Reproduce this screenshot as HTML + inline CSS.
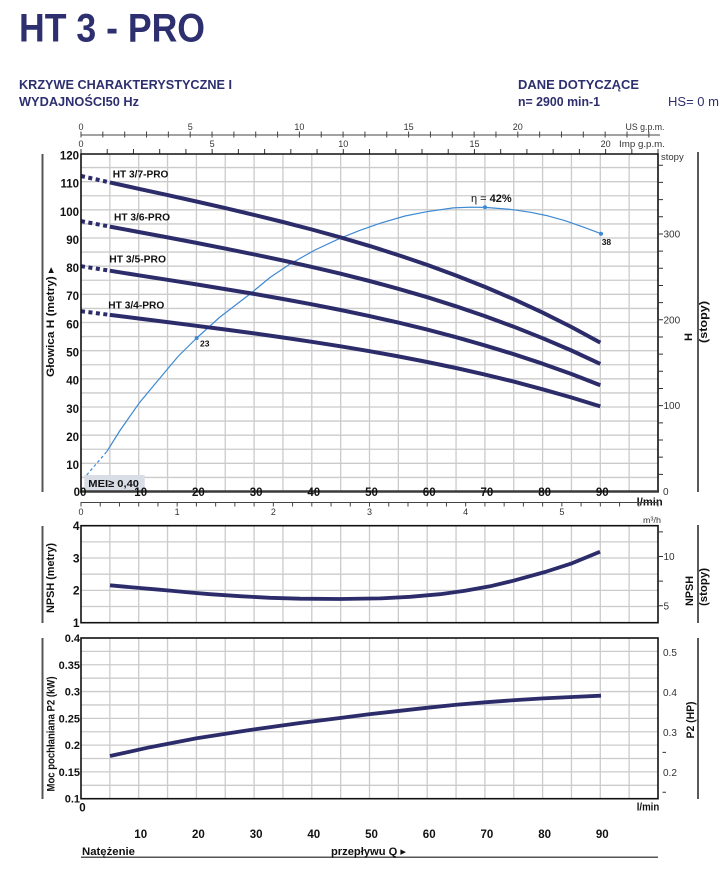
<!DOCTYPE html>
<html><head><meta charset="utf-8">
<style>
html,body{margin:0;padding:0;background:#fff;}
svg{display:block;}
text{font-family:"Liberation Sans","DejaVu Sans",sans-serif;}
</style></head><body>
<svg width="725" height="871" viewBox="0 0 725 871" xmlns="http://www.w3.org/2000/svg">
<rect width="725" height="871" fill="#fff"/>

<!-- Header -->
<text x="19" y="41.7" font-size="39.5" font-weight="bold" fill="#2d2f6f" textLength="186" lengthAdjust="spacingAndGlyphs">HT 3 - PRO</text>
<text x="19" y="89" font-size="13" font-weight="bold" fill="#2d2f6f" textLength="213" lengthAdjust="spacingAndGlyphs">KRZYWE CHARAKTERYSTYCZNE I</text>
<text x="19" y="106" font-size="13" font-weight="bold" fill="#2d2f6f" textLength="120" lengthAdjust="spacingAndGlyphs">WYDAJNOŚCI50 Hz</text>
<text x="518" y="89" font-size="13" font-weight="bold" fill="#2d2f6f" textLength="121" lengthAdjust="spacingAndGlyphs">DANE DOTYCZĄCE</text>
<text x="518" y="106" font-size="13" font-weight="bold" fill="#2d2f6f" textLength="82" lengthAdjust="spacingAndGlyphs">n= 2900 min-1</text>
<text x="668" y="106" font-size="13" fill="#2d2f6f" textLength="51" lengthAdjust="spacingAndGlyphs">HS= 0 m</text>

<!-- Top axes -->
<line x1="81" y1="135" x2="660" y2="135" stroke="#444" stroke-width="1"/>
<path stroke="#444" stroke-width="1" fill="none" d="M81 131.5V137.5M102.84 131.5V137.5M124.68 131.5V137.5M146.52 131.5V137.5M168.36 131.5V137.5M190.2 131.5V137.5M212.04 131.5V137.5M233.88 131.5V137.5M255.72 131.5V137.5M277.56 131.5V137.5M299.4 131.5V137.5M321.24 131.5V137.5M343.08 131.5V137.5M364.92 131.5V137.5M386.76 131.5V137.5M408.6 131.5V137.5M430.44 131.5V137.5M452.28 131.5V137.5M474.12 131.5V137.5M495.96 131.5V137.5M517.8 131.5V137.5M539.64 131.5V137.5M561.48 131.5V137.5M583.32 131.5V137.5M605.16 131.5V137.5M627 131.5V137.5M648.84 131.5V137.5"/>
<g font-size="9" fill="#333" text-anchor="middle">
<text x="81" y="130">0</text><text x="190.2" y="130">5</text><text x="299.4" y="130">10</text><text x="408.6" y="130">15</text><text x="517.8" y="130">20</text>
<text x="81" y="147">0</text><text x="212.15" y="147">5</text><text x="343.3" y="147">10</text><text x="474.45" y="147">15</text><text x="605.6" y="147">20</text>
</g>
<text x="625.5" y="130" font-size="9" fill="#333" textLength="39" lengthAdjust="spacingAndGlyphs">US g.p.m.</text>
<text x="619" y="147" font-size="9" fill="#333" textLength="46" lengthAdjust="spacingAndGlyphs">Imp g.p.m.</text>
<path stroke="#333" stroke-width="1" fill="none" d="M81 149V154M107.23 149V154M133.46 149V154M159.69 149V154M185.92 149V154M212.15 149V154M238.38 149V154M264.61 149V154M290.84 149V154M317.07 149V154M343.3 149V154M369.53 149V154M395.76 149V154M421.99 149V154M448.22 149V154M474.45 149V154M500.68 149V154M526.91 149V154M553.14 149V154M579.37 149V154M605.6 149V154M631.83 149V154M658 149V154"/>

<!-- MAIN GRID -->
<path stroke="#cbcbcb" stroke-width="1.3" fill="none" d="M109.85 154V491.5M138.7 154V491.5M167.55 154V491.5M196.4 154V491.5M225.25 154V491.5M254.1 154V491.5M282.95 154V491.5M311.8 154V491.5M340.65 154V491.5M369.5 154V491.5M398.35 154V491.5M427.2 154V491.5M456.05 154V491.5M484.9 154V491.5M513.75 154V491.5M542.6 154V491.5M571.45 154V491.5M600.3 154V491.5M629.15 154V491.5
M81 477.42H658M81 463.33H658M81 449.25H658M81 435.17H658M81 421.08H658M81 407H658M81 392.92H658M81 378.83H658M81 364.75H658M81 350.67H658M81 336.58H658M81 322.5H658M81 308.42H658M81 294.33H658M81 280.25H658M81 266.17H658M81 252.08H658M81 238H658M81 223.92H658M81 209.83H658M81 195.75H658M81 181.67H658M81 167.58H658"/>

<!-- MEI box -->
<rect x="84.3" y="475" width="60.4" height="16.7" fill="#d9dde6"/>
<text x="88.3" y="487" font-size="10.5" font-weight="bold" fill="#111" textLength="50.7" lengthAdjust="spacingAndGlyphs">MEI≥ 0,40</text>

<!-- Efficiency curve -->
<path d="M86.7 475L106.7 451.7" stroke="#3d89d4" stroke-width="1.2" stroke-dasharray="3,2.5" fill="none"/>
<polyline fill="none" stroke="#3d89d4" stroke-width="1.2" stroke-linejoin="round" points="106.7,451.7 120,430.5 139,403.3 160,378 178,356.5 196.7,338 220,317 250,294 270,277.5 290,264 315,250 340,238.3 360,230.3 380,223.3 405,216 426.7,211.7 453.3,207.9 470,207.2 485,207.4 510,209.3 530,212.2 548,215.9 565,220.7 584,227.3 601,233.7"/>
<circle cx="196.7" cy="338" r="2" fill="#3d89d4"/>
<circle cx="485" cy="207.3" r="2" fill="#3d89d4"/>
<circle cx="601" cy="233.7" r="2" fill="#3d89d4"/>
<text x="200" y="346.7" font-size="8.5" font-weight="bold" fill="#111">23</text>
<text x="601.7" y="245" font-size="8.5" font-weight="bold" fill="#111">38</text>
<text x="471" y="202" font-size="11" fill="#111" textLength="40.7" lengthAdjust="spacingAndGlyphs">η = <tspan font-weight="bold">42%</tspan></text>

<!-- Pump curves -->
<g fill="none" stroke="#2c2c6b" stroke-width="4">
<g stroke-dasharray="4,3.5">
<path d="M81 176L109.85 182.4"/>
<path d="M81 221.1L109.85 226.6"/>
<path d="M81 266.2L109.85 270.7"/>
<path d="M81 311.2L109.85 314.9"/>
</g>
<g stroke-linejoin="round">
<polyline points="109.85,182.4 138.7,188.8 167.55,195.1 196.4,201.5 225.25,208.1 254.1,214.9 282.95,222 311.8,229.5 340.65,237.4 369.5,245.9 398.35,255.1 427.2,264.9 456.05,275.5 484.9,286.9 513.75,299.2 542.6,312.6 571.45,327 600.3,342.6"/>
<polyline points="109.85,226.6 138.7,232 167.55,237.4 196.4,242.9 225.25,248.6 254.1,254.4 282.95,260.5 311.8,266.9 340.65,273.7 369.5,281 398.35,288.8 427.2,297.2 456.05,306.3 484.9,316.1 513.75,326.7 542.6,338.2 571.45,350.5 600.3,363.9"/>
<polyline points="109.85,270.7 138.7,275.3 167.55,279.8 196.4,284.4 225.25,289.1 254.1,293.9 282.95,299 311.8,304.3 340.65,310 369.5,316.1 398.35,322.6 427.2,329.6 456.05,337.2 484.9,345.4 513.75,354.2 542.6,363.7 571.45,374 600.3,385.2"/>
<polyline points="109.85,314.9 138.7,318.5 167.55,322.1 196.4,325.8 225.25,329.5 254.1,333.4 282.95,337.5 311.8,341.8 340.65,346.3 369.5,351.2 398.35,356.4 427.2,362 456.05,368 484.9,374.6 513.75,381.6 542.6,389.3 571.45,397.5 600.3,406.4"/>
</g>
</g>
<g font-size="10.5" font-weight="bold" fill="#111">
<text x="112.7" y="177.5" textLength="55.7" lengthAdjust="spacingAndGlyphs">HT 3/7-PRO</text>
<text x="114" y="220.7" textLength="56" lengthAdjust="spacingAndGlyphs">HT 3/6-PRO</text>
<text x="109.3" y="262.3" textLength="56.7" lengthAdjust="spacingAndGlyphs">HT 3/5-PRO</text>
<text x="108.3" y="308.3" textLength="56" lengthAdjust="spacingAndGlyphs">HT 3/4-PRO</text>
</g>

<!-- Main frame -->
<path d="M81 491.5V154H658V491.5" stroke="#111" stroke-width="1.6" fill="none"/>
<line x1="80" y1="491.5" x2="659" y2="491.5" stroke="#3a3a3a" stroke-width="2.6"/>
<path stroke="#333" stroke-width="1" fill="none" d="M658 474.33H663M658 457.16H663M658 439.99H663M658 422.82H663M658 405.65H663M658 388.48H663M658 371.31H663M658 354.14H663M658 336.97H663M658 319.79H663M658 302.62H663M658 285.45H663M658 268.28H663M658 251.11H663M658 233.94H663M658 216.77H663M658 199.6H663M658 182.43H663M658 165.26H663"/>
<g font-size="10" fill="#333">
<text x="663" y="495">0</text>
<text x="663.5" y="409.2">100</text>
<text x="663.5" y="323.3">200</text>
<text x="663.5" y="237.5">300</text>
<text x="661" y="160" font-size="9.5">stopy</text>
</g>

<!-- Main left labels -->
<g font-size="11.5" font-weight="bold" fill="#111" text-anchor="end">
<text x="79" y="159.5">120</text>
<text x="79" y="187.7">110</text>
<text x="79" y="215.8">100</text>
<text x="79" y="243.8">90</text>
<text x="79" y="272">80</text>
<text x="79" y="300.2">70</text>
<text x="79" y="328.3">60</text>
<text x="79" y="356.5">50</text>
<text x="79" y="384.6">40</text>
<text x="79" y="412.8">30</text>
<text x="79" y="441">20</text>
<text x="79" y="469.1">10</text>
</g>
<!-- Main x labels -->
<g font-size="11.5" font-weight="bold" fill="#111" text-anchor="middle">
<text x="80" y="496">00</text>
<text x="140.7" y="496">10</text>
<text x="198.4" y="496">20</text>
<text x="256.1" y="496">30</text>
<text x="313.8" y="496">40</text>
<text x="371.5" y="496">50</text>
<text x="429.2" y="496">60</text>
<text x="486.9" y="496">70</text>
<text x="544.6" y="496">80</text>
<text x="602.3" y="496">90</text>
</g>
<text x="636.7" y="505.5" font-size="11" font-weight="bold" fill="#111" textLength="26" lengthAdjust="spacingAndGlyphs">l/min</text>

<!-- m3/h axis -->
<line x1="81" y1="502.5" x2="658" y2="502.5" stroke="#444" stroke-width="1"/>
<path stroke="#444" stroke-width="1" fill="none" d="M81 502V506.5M100.23 502V506.5M119.47 502V506.5M138.7 502V506.5M157.94 502V506.5M177.17 502V506.5M196.4 502V506.5M215.64 502V506.5M234.87 502V506.5M254.11 502V506.5M273.34 502V506.5M292.57 502V506.5M311.81 502V506.5M331.04 502V506.5M350.28 502V506.5M369.51 502V506.5M388.74 502V506.5M407.98 502V506.5M427.21 502V506.5M446.45 502V506.5M465.68 502V506.5M484.91 502V506.5M504.15 502V506.5M523.38 502V506.5M542.62 502V506.5M561.85 502V506.5M581.08 502V506.5M600.32 502V506.5M619.55 502V506.5M638.79 502V506.5M658 502V506.5"/>
<g font-size="9" fill="#333" text-anchor="middle">
<text x="81" y="515">0</text><text x="177.17" y="515">1</text><text x="273.34" y="515">2</text><text x="369.51" y="515">3</text><text x="465.68" y="515">4</text><text x="561.85" y="515">5</text>
</g>
<text x="643" y="523" font-size="8.5" fill="#333" textLength="18" lengthAdjust="spacingAndGlyphs">m³/h</text>

<!-- NPSH panel -->
<path stroke="#cbcbcb" stroke-width="1.3" fill="none" d="M109.85 525.7V622.7M138.7 525.7V622.7M167.55 525.7V622.7M196.4 525.7V622.7M225.25 525.7V622.7M254.1 525.7V622.7M282.95 525.7V622.7M311.8 525.7V622.7M340.65 525.7V622.7M369.5 525.7V622.7M398.35 525.7V622.7M427.2 525.7V622.7M456.05 525.7V622.7M484.9 525.7V622.7M513.75 525.7V622.7M542.6 525.7V622.7M571.45 525.7V622.7M600.3 525.7V622.7M629.15 525.7V622.7
M81 541.87H658M81 558.03H658M81 574.2H658M81 590.37H658M81 606.53H658"/>
<polyline fill="none" stroke="#2c2c6b" stroke-width="3.8" stroke-linejoin="round" points="110,585.3 125,586.7 140,588 155,589.3 170,590.6 190,592.5 210,594.2 240,596.2 270,597.8 300,598.7 340,599 380,598.4 410,596.8 440,594.2 465,590.8 490,586.3 513,580.8 545,572 572,563.3 600,551.7"/>
<rect x="81" y="525.7" width="577" height="97" fill="none" stroke="#111" stroke-width="1.6"/>
<g font-size="12" font-weight="bold" fill="#111" text-anchor="end">
<text x="79.5" y="530">4</text>
<text x="79.5" y="562.3">3</text>
<text x="79.5" y="594.7">2</text>
<text x="79.5" y="627">1</text>
</g>
<path stroke="#333" stroke-width="1" fill="none" d="M658 531.85H663M658 556.5H663M658 581.1H663M658 605.8H663"/>
<g font-size="10" fill="#333">
<text x="663.5" y="560">10</text>
<text x="663.5" y="609.4">5</text>
</g>

<!-- Power panel -->
<path stroke="#cbcbcb" stroke-width="1.3" fill="none" d="M109.85 638V798.7M138.7 638V798.7M167.55 638V798.7M196.4 638V798.7M225.25 638V798.7M254.1 638V798.7M282.95 638V798.7M311.8 638V798.7M340.65 638V798.7M369.5 638V798.7M398.35 638V798.7M427.2 638V798.7M456.05 638V798.7M484.9 638V798.7M513.75 638V798.7M542.6 638V798.7M571.45 638V798.7M600.3 638V798.7M629.15 638V798.7
M81 651.39H658M81 664.78H658M81 678.17H658M81 691.56H658M81 704.95H658M81 718.34H658M81 731.73H658M81 745.12H658M81 758.51H658M81 771.9H658M81 785.29H658"/>
<polyline fill="none" stroke="#2c2c6b" stroke-width="3.8" stroke-linejoin="round" points="110,756 150,747.2 196.7,738.3 250,730 300,723 340,718 369,714.3 400,710.8 426.7,707.8 455,704.9 485,702.3 515,700.1 543,698.4 572,697 601,695.7"/>
<rect x="81" y="638" width="577" height="160.7" fill="none" stroke="#111" stroke-width="1.6"/>
<g font-size="11" font-weight="bold" fill="#111" text-anchor="end">
<text x="80" y="642">0.4</text>
<text x="80" y="668.8">0.35</text>
<text x="80" y="695.6">0.3</text>
<text x="80" y="722.3">0.25</text>
<text x="80" y="749.1">0.2</text>
<text x="80" y="775.9">0.15</text>
<text x="80" y="802.7">0.1</text>
</g>
<g font-size="10" fill="#333">
<text x="663" y="656">0.5</text>
<text x="663" y="696">0.4</text>
<text x="663" y="736">0.3</text>
<text x="663" y="776">0.2</text>
</g>
<path stroke="#333" stroke-width="1" fill="none" d="M662.5 752.4H666M662.5 792.3H666"/>

<!-- Bottom labels -->
<text x="82.5" y="811.5" font-size="11.5" font-weight="bold" fill="#111" text-anchor="middle">0</text>
<text x="636.7" y="810.5" font-size="11" font-weight="bold" fill="#111" textLength="22.6" lengthAdjust="spacingAndGlyphs">l/min</text>
<g font-size="11.5" font-weight="bold" fill="#111" text-anchor="middle">
<text x="140.7" y="838">10</text>
<text x="198.4" y="838">20</text>
<text x="256.1" y="838">30</text>
<text x="313.8" y="838">40</text>
<text x="371.5" y="838">50</text>
<text x="429.2" y="838">60</text>
<text x="486.9" y="838">70</text>
<text x="544.6" y="838">80</text>
<text x="602.3" y="838">90</text>
</g>
<line x1="81" y1="857.2" x2="658" y2="857.2" stroke="#555" stroke-width="1.5"/>
<text x="82" y="855" font-size="11" font-weight="bold" fill="#111" textLength="53" lengthAdjust="spacingAndGlyphs">Natężenie</text>
<text x="331" y="855" font-size="11" font-weight="bold" fill="#111" textLength="75" lengthAdjust="spacingAndGlyphs">przepływu Q ▸</text>

<!-- Side brackets -->
<g stroke="#555" stroke-width="2">
<line x1="42.5" y1="154" x2="42.5" y2="492"/>
<line x1="42.5" y1="526" x2="42.5" y2="623"/>
<line x1="42.5" y1="638" x2="42.5" y2="799"/>
</g>
<g stroke="#222" stroke-width="1.5">
<line x1="698" y1="152" x2="698" y2="492"/>
<line x1="698" y1="525" x2="698" y2="623"/>
<line x1="698" y1="638" x2="698" y2="799"/>
</g>

<!-- Rotated axis titles -->
<g font-size="11" font-weight="bold" fill="#111" text-anchor="middle">
<text transform="translate(54,322) rotate(-90)" textLength="110" lengthAdjust="spacingAndGlyphs">Głowica H (metry) ▸</text>
<text transform="translate(54,578) rotate(-90)" textLength="70" lengthAdjust="spacingAndGlyphs">NPSH (metry)</text>
<text transform="translate(54.5,734) rotate(-90)" textLength="115" lengthAdjust="spacingAndGlyphs">Moc pochłaniana P2 (kW)</text>
<text transform="translate(692,337) rotate(-90)">H</text>
<text transform="translate(707,322) rotate(-90)" textLength="42" lengthAdjust="spacingAndGlyphs">(stopy)</text>
<text transform="translate(693,591) rotate(-90)" textLength="30" lengthAdjust="spacingAndGlyphs">NPSH</text>
<text transform="translate(707,587) rotate(-90)" textLength="38" lengthAdjust="spacingAndGlyphs">(stopy)</text>
<text transform="translate(694,720) rotate(-90)" textLength="37" lengthAdjust="spacingAndGlyphs">P2 (HP)</text>
</g>
</svg>
</body></html>
